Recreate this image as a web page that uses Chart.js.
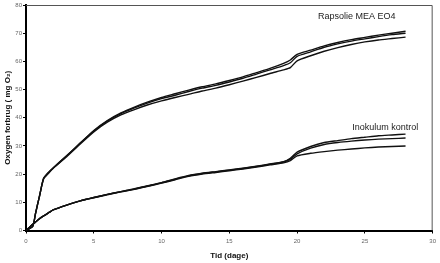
<!DOCTYPE html>
<html>
<head>
<meta charset="utf-8">
<script src="https://cdn.jsdelivr.net/npm/chart.js@4.4.1/dist/chart.umd.min.js"></script>
<style>
    html, body { margin: 0; padding: 0; background: #fff; }
    canvas { display: block; }
</style>
</head>
<body>
<canvas id="chart" width="440" height="263"></canvas>
<script>
// days sampled along the curves
const days = [0, 0.5, 0.7, 1, 1.3, 1.7, 2, 3, 4, 5, 6, 7, 8, 9, 10, 11, 12, 13, 14, 15, 16, 17, 18, 19, 19.5, 20, 21, 22, 23, 24, 25, 26, 27, 28];

// Rapsolie MEA EO4, three replicates
const rapsolie1 = [0, 1.5, 6, 12.3, 18.5, 20.8, 22.2, 26.5, 31, 35.5, 39, 41.7, 43.8, 45.6, 47.2, 48.5, 49.8, 51, 52, 53.2, 54.5, 56, 57.5, 59.3, 60.5, 62.5, 64, 65.5, 66.7, 67.7, 68.5, 69.3, 70, 70.7];
const rapsolie2 = [0, 1.5, 6, 12.3, 18.5, 20.8, 22.2, 26.5, 31, 35.3, 38.8, 41.5, 43.5, 45.3, 46.8, 48, 49.3, 50.5, 51.5, 52.7, 54, 55.5, 57, 58.5, 59.5, 61.8, 63.4, 65, 66.2, 67.2, 68, 68.8, 69.5, 70];
const rapsolie3 = [0, 1.5, 6, 12.3, 18.3, 20.5, 22, 26.2, 30.7, 35, 38.4, 41, 42.9, 44.6, 46, 47.2, 48.3, 49.5, 50.5, 51.7, 53, 54.3, 55.7, 57, 57.8, 60.2, 62, 63.6, 64.9, 66, 66.9, 67.6, 68.1, 68.6];

// Inokulum kontrol, three replicates
const kontrol1 = [0, 2.2, 3, 4.2, 5.2, 6.4, 7.3, 9, 10.5, 11.7, 12.8, 13.8, 14.8, 15.9, 17, 18.3, 19.5, 20.3, 20.9, 21.5, 22.1, 22.8, 23.6, 24.4, 25.6, 27.8, 29.8, 31.2, 31.9, 32.6, 33.1, 33.6, 33.9, 34.2];
const kontrol2 = [0, 2.2, 3, 4.2, 5.2, 6.4, 7.3, 9, 10.5, 11.7, 12.8, 13.8, 14.7, 15.8, 16.9, 18.2, 19.4, 20.2, 20.8, 21.4, 22, 22.7, 23.5, 24.3, 25.3, 27.2, 29.2, 30.5, 31.2, 31.7, 32.1, 32.4, 32.6, 32.8];
const kontrol3 = [0, 2.2, 3, 4.2, 5.2, 6.4, 7.3, 9, 10.5, 11.6, 12.7, 13.7, 14.6, 15.7, 16.8, 18, 19.2, 20, 20.6, 21.2, 21.8, 22.5, 23.3, 24, 24.8, 26.5, 27.4, 28, 28.5, 28.9, 29.3, 29.6, 29.8, 30];

const xTicks = [0, 5, 10, 15, 20, 25, 30];
const yTicks = [0, 10, 20, 30, 40, 50, 60, 70, 80];

const seriesLabels = ['Rapsolie MEA EO4', 'Inokulum kontrol'];
const labelDays = [24.4, 26.5];
const labelValues = [76, 36.7];

function toPoints(values) {
    return days.map((d, i) => ({ x: d, y: values[i] }));
}

function lineSet(name, values) {
    return {
        label: name,
        data: toPoints(values),
        borderColor: '#111',
        borderWidth: 1.4,
        pointRadius: 0,
        tension: 0.2,
        fill: false
    };
}

const frameAndLabels = {
    id: 'frameAndLabels',
    afterDatasetsDraw(chart) {
        const { ctx, chartArea, scales } = chart;
        ctx.save();
        ctx.strokeStyle = '#555';
        ctx.lineWidth = 1;
        ctx.beginPath();
        ctx.moveTo(chartArea.left, chartArea.top + 0.5);
        ctx.lineTo(chartArea.right - 0.5, chartArea.top + 0.5);
        ctx.lineTo(chartArea.right - 0.5, chartArea.bottom);
        ctx.stroke();

        ctx.fillStyle = '#222';
        ctx.font = '9px "Liberation Sans", Arial, sans-serif';
        ctx.textAlign = 'center';
        ctx.textBaseline = 'middle';
        seriesLabels.forEach((text, i) => {
            ctx.fillText(text, scales.x.getPixelForValue(labelDays[i]), scales.y.getPixelForValue(labelValues[i]));
        });
        ctx.restore();
    }
};

const tickFont = { family: '"Liberation Sans", Arial, sans-serif', size: 6 };
const titleFont = { family: '"Liberation Sans", Arial, sans-serif', size: 8, weight: 'bold' };

new Chart(document.getElementById('chart'), {
    type: 'line',
    data: {
        datasets: [
            lineSet('Rapsolie MEA EO4 1', rapsolie1),
            lineSet('Rapsolie MEA EO4 2', rapsolie2),
            lineSet('Rapsolie MEA EO4 3', rapsolie3),
            lineSet('Inokulum kontrol 1', kontrol1),
            lineSet('Inokulum kontrol 2', kontrol2),
            lineSet('Inokulum kontrol 3', kontrol3)
        ]
    },
    options: {
        responsive: false,
        animation: false,
        devicePixelRatio: 1,
        layout: { padding: { top: 5, right: 5, left: 0, bottom: 0 } },
        plugins: {
            legend: { display: false },
            tooltip: { enabled: false }
        },
        scales: {
            x: {
                type: 'linear',
                min: 0,
                max: 30,
                afterBuildTicks: scale => { scale.ticks = xTicks.map(v => ({ value: v })); },
                afterFit: scale => { scale.height = 32.5; },
                border: { color: '#000', width: 2 },
                grid: { drawOnChartArea: false, tickLength: 3, color: '#000' },
                ticks: { color: '#666', font: tickFont, padding: 4, maxRotation: 0 },
                title: { display: true, text: 'Tid (dage)', color: '#111', font: titleFont, padding: { top: 0, bottom: 2 } }
            },
            y: {
                min: 0,
                max: 80,
                afterBuildTicks: scale => { scale.ticks = yTicks.map(v => ({ value: v })); },
                afterFit: scale => { scale.width = 26; },
                border: { color: '#000', width: 2 },
                grid: { drawOnChartArea: false, tickLength: 3, color: '#000' },
                ticks: { color: '#666', font: tickFont, padding: 1 },
                title: { display: true, text: 'Oxygen forbrug ( mg O₂)', color: '#111', font: titleFont, padding: { top: 3, bottom: 0 } }
            }
        }
    },
    plugins: [frameAndLabels]
});
</script>
</body>
</html>
